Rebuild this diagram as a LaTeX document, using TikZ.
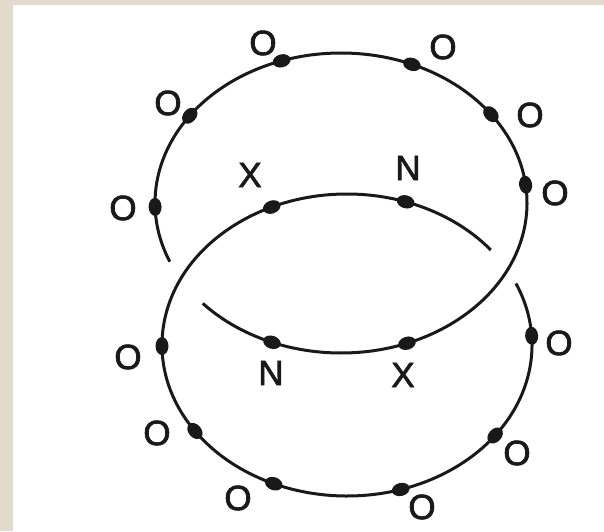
\documentclass[tikz,border=0pt]{standalone}
\usepackage{fontspec}
\setmainfont{Liberation Sans}
\newfontfamily\lblfont[FakeBold=2]{Liberation Sans}
\usetikzlibrary{shapes.geometric,calc}
\definecolor{beige}{RGB}{226,219,204}
\definecolor{ink}{RGB}{25,25,25}
\begin{document}
\begin{tikzpicture}[x=1pt,y=1pt,
  ring/.style={line width=3pt,ink},
  dotmark/.style={ellipse,fill=ink,inner sep=0pt,minimum width=18pt,minimum height=13pt},
  lbl/.style={inner sep=0pt,font=\lblfont\fontsize{35}{38}\selectfont,text=ink}]
\useasboundingbox (0,0) rectangle (604,531);
\fill[beige] (0,0) rectangle (604,531);
\fill[white] (13,0) rectangle (604,526);
% centres
\coordinate (uc) at (341,328);
\coordinate (lc) at (347,186);
% upper ring (gap on the left)
\coordinate (ustart) at ($(341,328)+(-138:186 and 150)$);
\draw[ring] (ustart) arc[start angle=-138,end angle=203,x radius=186,y radius=150];
% lower ring (gap on the right)
\coordinate (lstart) at ($(347,186)+(39:185 and 151)$);
\draw[ring] (lstart) arc[start angle=39,end angle=384,x radius=185,y radius=151];
% dots on upper ring
\foreach \n/\t in {a/108.6,b/67.6,c/144.4,d/36.3,e/181.5,f/7,g/-111.8,h/-69.2}{
  \pgfmathsetmacro\ang{atan2(150*cos(\t),-186*sin(\t))}
  \pgfmathsetmacro\px{341+186*cos(\t)}
  \pgfmathsetmacro\py{328+150*sin(\t)}
  \path (\px,\py) node[dotmark,rotate=\ang] (u\n) {};
}
% dots on lower ring
\foreach \n/\t in {a/114,b/71.5,c/180.4,d/214.7,e/246.7,f/286.9,g/323.2,h/3.5}{
  \pgfmathsetmacro\ang{atan2(151*cos(\t),-185*sin(\t))}
  \pgfmathsetmacro\px{347+185*cos(\t)}
  \pgfmathsetmacro\py{186+151*sin(\t)}
  \path (\px,\py) node[dotmark,rotate=\ang] (l\n) {};
}
% labels upper ring
\node[lbl] (oua) at (263,488) {O};
\node[lbl] (oub) at (443,484) {O};
\node[lbl] (ouc) at (168,428) {O};
\node[lbl] (oud) at (530,416) {O};
\node[lbl] (oue) at (123,323) {O};
\node[lbl] (ouf) at (555,338) {O};
% labels lower ring
\node[lbl] (ola) at (128,174) {O};
\node[lbl] (olb) at (157,98) {O};
\node[lbl] (olc) at (238,33) {O};
\node[lbl] (old) at (422,24) {O};
\node[lbl] (ole) at (517,78) {O};
\node[lbl] (olf) at (559,188) {O};
% inner labels
\node[lbl] (x1) at (250,356) {X};
\node[lbl] (n1) at (408,363) {N};
\node[lbl] (n2) at (271,158) {N};
\node[lbl] (x2) at (403,156) {X};
\end{tikzpicture}
\end{document}
